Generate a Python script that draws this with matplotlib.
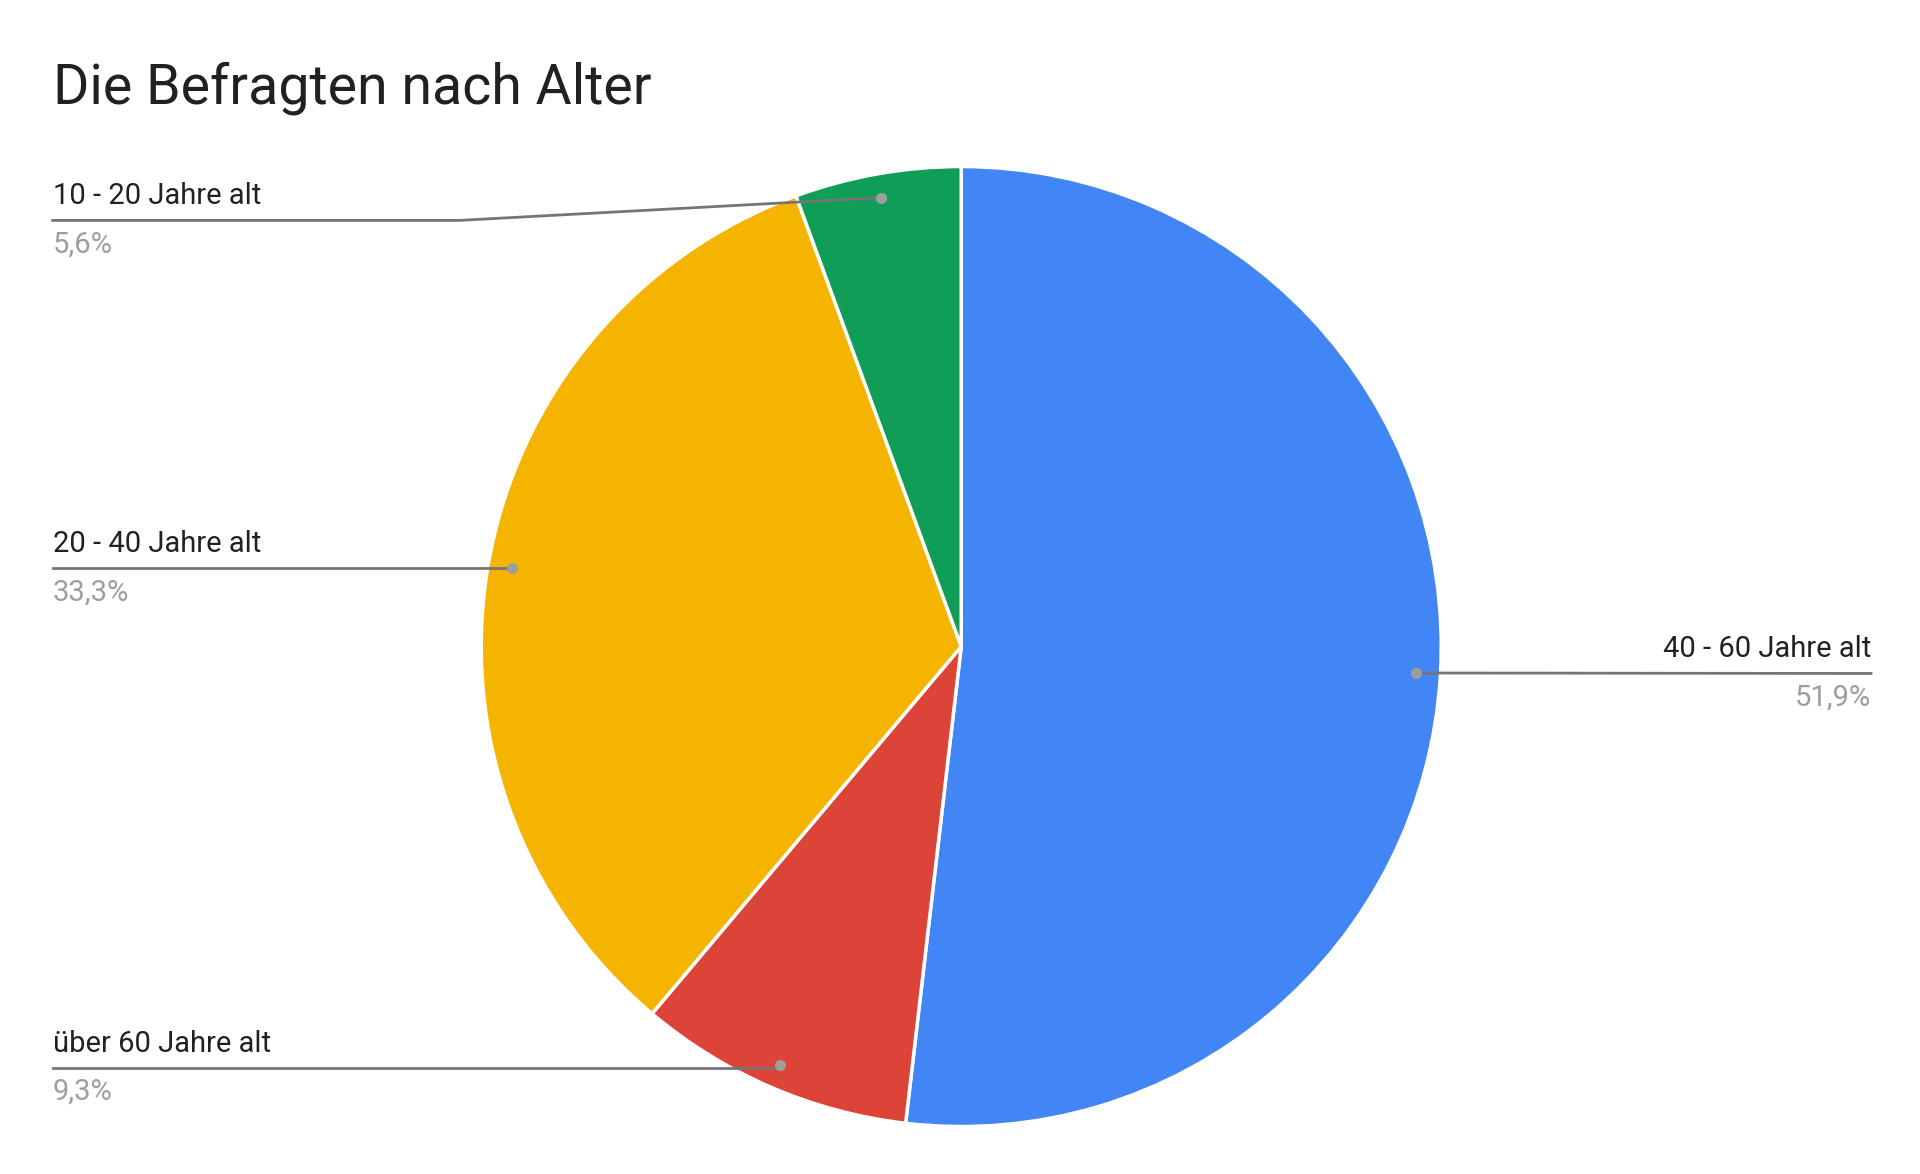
import numpy as np
import matplotlib.pyplot as plt

plt.rcParams['font.family'] = ['Roboto', 'DejaVu Sans']

labels = ["40 - 60 Jahre alt", "über 60 Jahre alt", "20 - 40 Jahre alt", "10 - 20 Jahre alt"]
values = [51.9, 9.3, 33.3, 5.6]
pct_text = ["51,9%", "9,3%", "33,3%", "5,6%"]
colors = ["#4285F4", "#DB4437", "#F4B400", "#0F9D58"]

W, H = 1920, 1174
s = W / 1568.0

def py(y):
    return H - y * s

fig = plt.figure(figsize=(W / 100, H / 100), dpi=100)
ax = fig.add_axes([0, 0, 1, 1])

cx, cy, R = 785 * s, py(528), 392 * s
wedges, _ = ax.pie(values, colors=colors, startangle=90, counterclock=False,
                   center=(cx, cy), radius=R,
                   wedgeprops=dict(edgecolor="white", linewidth=2.5))
# pie resets the limits, so set them afterwards
ax.set_xlim(0, W)
ax.set_ylim(0, H)
ax.set_aspect("equal")
ax.axis("off")

ax.text(43 * s, py(72), "Die Befragten nach Alter", fontsize=40,
        va="center", ha="left", color="#202124")

# label layout: (line y, text side)
layout = {
    "40 - 60 Jahre alt": (550, "right"),
    "über 60 Jahre alt": (872, "left"),
    "20 - 40 Jahre alt": (464, "left"),
    "10 - 20 Jahre alt": (180, "left"),
}
lc = "#757575"
for w, lab, pt in zip(wedges, labels, pct_text):
    ang = np.deg2rad((w.theta1 + w.theta2) / 2)
    dx, dy = cx + 0.95 * R * np.cos(ang), cy + 0.95 * R * np.sin(ang)
    ly, side = layout[lab]
    yl = py(ly)
    ax.plot(dx, dy, "o", color="#9e9e9e", ms=7, zorder=5)
    if side == "right":
        x_end = 1528 * s
        ax.plot([dx, x_end], [dy, yl], color=lc, lw=2)
        ax.text(x_end, yl + 10, lab, ha="right", va="bottom", fontsize=21, color="#202124")
        ax.text(x_end, yl - 10, pt, ha="right", va="top", fontsize=21, color="#9e9e9e")
    else:
        x_end = 43 * s
        if abs(dy - yl) > 5:
            ax.plot([dx, 375 * s, x_end], [dy, yl, yl], color=lc, lw=2)
        else:
            ax.plot([dx, x_end], [yl, yl], color=lc, lw=2)
        ax.text(x_end, yl + 10, lab, ha="left", va="bottom", fontsize=21, color="#202124")
        ax.text(x_end, yl - 10, pt, ha="left", va="top", fontsize=21, color="#9e9e9e")

fig.savefig("out.png", dpi=100, facecolor="white")
